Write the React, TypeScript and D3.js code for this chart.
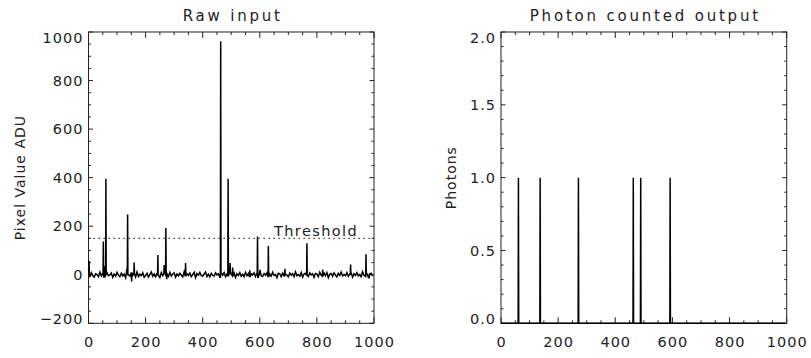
import { useEffect, useRef } from 'react';
import * as d3 from 'd3';

// baseline noise of the raw input, one value every 5 pixels (ADU)
const noiseStep = 5;
const rawNoise = [
  5, -7, 9, -3, -10, 4, 1, -8, 11, -5, 6, -9, 2, 8, -4, -1, 7, -11, 3, -6,
  10, -2, -8, 6, -5, 3, -12, 7, 0, -6, 9, -3, 4, -9, 12, -7, 2, -4, 8, -10,
  -3, 6, -9, 1, 11, -6, 3, -8, 5, -2, -11, 9, -4, 7, -1, 4, -7, 10, -5, 2,
  8, -10, 3, -5, 6, -1, -9, 12, -6, 4, -3, 7, -8, 1, 10, -12, 5, -2, 9, -4,
  -6, 3, 11, -7, 2, -9, 6, -3, -5, 8, -1, 4, -10, 7, -2, 9, -8, 3, -6, 12,
  1, -5, 7, -11, 4, -3, 9, -6, 2, -8, 10, -4, 5, -9, 3, -1, 8, -7, 6, -10,
  11, -4, -7, 5, -2, 8, -9, 3, -6, 10, -3, 1, -12, 6, 4, -8, 7, -5, 2, -1,
  -9, 7, -2, 5, -8, 12, -4, 1, -6, 9, -10, 3, 6, -3, -7, 8, -1, 4, -11, 5,
  3, -8, 10, -2, -6, 7, -4, 9, -12, 2, 5, -7, 8, -1, -9, 6, -3, 11, -5, 1,
  -4, 9, -6, 2, 7, -10, 4, -3, 8, -5, 1, -8, 12, -2, -7, 5, -9, 3, 6, -6,
];

// single-pixel events in the raw input: [pixel, ADU]
const rawSpikes: [number, number][] = [
  [2, 58], [52, 137], [58, 36], [61, 395], [134, 25], [137, 248], [151, -28],
  [160, 50], [243, 81], [265, 40], [271, 193], [274, -18], [340, 48],
  [463, 962], [489, 395], [496, 48], [505, 30], [565, 18], [592, 158],
  [601, 20], [630, 118], [688, 25], [765, 130], [820, 22], [918, 42],
  [972, 84], [983, -15],
];

const threshold = 150;

const rawYTicks = [-200, 0, 200, 400, 600, 800, 1000];
const photonYTicks = [0, 0.5, 1, 1.5, 2];
const xTicks = [0, 200, 400, 600, 800, 1000];

const W = 811;
const H = 358;
const FONT = '"DejaVu Sans", sans-serif';
const INK = '#222';
const TICK_FS = 14.5;
const TICK_LS = 1;

function buildRaw() {
  const m = new Map<number, number>();
  rawNoise.forEach((v, i) => m.set(i * noiseStep, v));
  const noiseAt = (x: number) => rawNoise[Math.min(rawNoise.length - 1, Math.round(x / noiseStep))];
  rawSpikes.forEach(([x, v]) => {
    m.set(x, v);
    if (!m.has(x - 1)) m.set(x - 1, noiseAt(x - 1));
    if (!m.has(x + 1)) m.set(x + 1, noiseAt(x + 1));
  });
  return Array.from(m.entries())
    .filter(([x]) => x >= 0 && x <= 999)
    .sort((a, b) => a[0] - b[0])
    .map(([x, y]) => ({ x, y }));
}

export default function App() {
  const svgRef = useRef<SVGSVGElement>(null);

  useEffect(() => {
    if (!svgRef.current) return;
    const svg = d3.select(svgRef.current);
    svg.selectAll('*').remove();

    const raw = buildRaw();
    // photon counting: 1 where the raw pixel crosses the threshold
    const photons = raw.map(d => ({ x: d.x, y: d.y > threshold ? 1 : 0 }));

    const top = 32;
    const bottom = 323.3;

    function panel(
      x0: number,
      x1: number,
      yDomain: [number, number],
      yTicks: number[],
      yMinorStep: number,
      fmt: (v: number) => string,
      title: string,
      yLabel: string,
      yLabelX: number,
    ) {
      const x = d3.scaleLinear().domain([0, 1000]).range([x0, x1]);
      const y = d3.scaleLinear().domain(yDomain).range([bottom, top]);
      const g = svg.append('g');

      // box
      g.append('rect')
        .attr('x', x0).attr('y', top)
        .attr('width', x1 - x0).attr('height', bottom - top)
        .attr('fill', 'none').attr('stroke', INK).attr('stroke-width', 1);

      // x ticks (bottom and top, inward)
      d3.range(0, 1000.01, 50).forEach(t => {
        const len = t % 200 === 0 ? 6 : 3;
        [bottom, top].forEach((yy, k) => {
          g.append('line')
            .attr('x1', x(t)).attr('x2', x(t))
            .attr('y1', yy).attr('y2', k === 0 ? yy - len : yy + len)
            .attr('stroke', INK).attr('stroke-width', 1);
        });
      });

      // y ticks (left and right, inward)
      d3.range(yDomain[0], yDomain[1] + yMinorStep / 2, yMinorStep).forEach(t => {
        const major = yTicks.some(v => Math.abs(v - t) < 1e-6);
        const len = major ? 4.5 : 2.5;
        [x0, x1].forEach((xx, k) => {
          g.append('line')
            .attr('x1', xx).attr('x2', k === 0 ? xx + len : xx - len)
            .attr('y1', y(t)).attr('y2', y(t))
            .attr('stroke', INK).attr('stroke-width', 1);
        });
      });

      // x tick labels
      g.selectAll('.xl')
        .data(xTicks)
        .enter()
        .append('text')
        .attr('x', d => x(d) + TICK_LS / 2)
        .attr('y', 347)
        .attr('text-anchor', 'middle')
        .attr('font-family', FONT)
        .attr('font-size', TICK_FS)
        .attr('letter-spacing', TICK_LS)
        .attr('fill', INK)
        .text(d => String(d));

      // y tick labels, kept inside the axis range like IDL does
      g.selectAll('.yl')
        .data(yTicks)
        .enter()
        .append('text')
        .attr('x', x0 - 6 + TICK_LS)
        .attr('y', d => Math.min(bottom - 5, Math.max(top + 5.5, y(d))))
        .attr('dy', '0.36em')
        .attr('text-anchor', 'end')
        .attr('font-family', FONT)
        .attr('font-size', TICK_FS)
        .attr('letter-spacing', TICK_LS)
        .attr('fill', INK)
        .text(d => fmt(d));

      // title
      g.append('text')
        .attr('x', (x0 + x1) / 2 + 1.5)
        .attr('y', 20.5)
        .attr('text-anchor', 'middle')
        .attr('font-family', FONT)
        .attr('font-size', 15)
        .attr('letter-spacing', 2.8)
        .attr('fill', INK)
        .text(title);

      // y axis label
      g.append('text')
        .attr('transform', `translate(${yLabelX}, ${(top + bottom) / 2}) rotate(-90)`)
        .attr('text-anchor', 'middle')
        .attr('font-family', FONT)
        .attr('font-size', 14)
        .attr('letter-spacing', 1)
        .attr('fill', INK)
        .text(yLabel);

      return { g, x, y };
    }

    const left = panel(
      88.5, 374, [-200, 1000], rawYTicks, 50,
      d => (d < 0 ? '\u2212' + Math.abs(d) : String(d)),
      'Raw input', 'Pixel Value ADU', 24.5,
    );
    const right = panel(
      501, 786.7, [0, 2], photonYTicks, 0.1,
      d => d.toFixed(1),
      'Photon counted output', 'Photons', 455.5,
    );

    // threshold line
    left.g.append('line')
      .attr('x1', left.x(0)).attr('x2', left.x(1000))
      .attr('y1', left.y(threshold)).attr('y2', left.y(threshold))
      .attr('stroke', INK).attr('stroke-width', 1.2)
      .attr('stroke-dasharray', '1.3 3.7');
    left.g.append('text')
      .attr('x', 274)
      .attr('y', 236)
      .attr('font-family', FONT)
      .attr('font-size', TICK_FS)
      .attr('letter-spacing', 1.4)
      .attr('fill', INK)
      .text('Threshold');

    const rawLine = d3.line<{ x: number; y: number }>()
      .x(d => left.x(d.x))
      .y(d => left.y(d.y));
    left.g.append('path')
      .datum(raw)
      .attr('d', rawLine)
      .attr('fill', 'none')
      .attr('stroke', '#000')
      .attr('stroke-width', 1.5);

    const photonLine = d3.line<{ x: number; y: number }>()
      .x(d => right.x(d.x))
      .y(d => right.y(d.y));
    right.g.append('path')
      .datum(photons)
      .attr('d', photonLine)
      .attr('fill', 'none')
      .attr('stroke', '#000')
      .attr('stroke-width', 1.5);
  }, []);

  return (
    <>
      <style>{'body{margin:0;background:#fff}'}</style>
      <svg ref={svgRef} width={W} height={H} style={{ display: 'block', background: '#fff' }} />
    </>
  );
}
